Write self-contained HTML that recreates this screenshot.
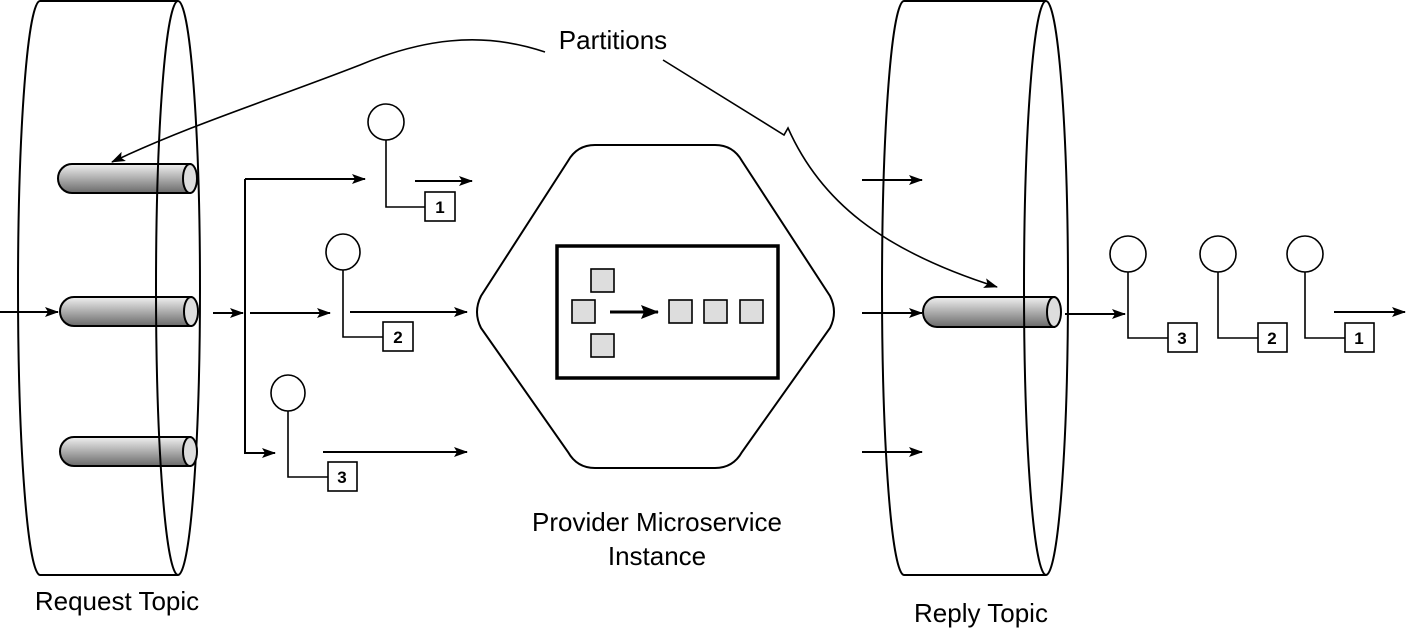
<!DOCTYPE html>
<html><head><meta charset="utf-8"><style>html,body{margin:0;padding:0;background:#fff}svg{display:block}</style></head>
<body>
<svg width="1406" height="632" viewBox="0 0 1406 632" xmlns="http://www.w3.org/2000/svg" font-family="Liberation Sans, Arial, sans-serif">
<defs>
<linearGradient id="g" x1="0" y1="0" x2="0" y2="1"><stop offset="0" stop-color="#f0f0f0"/><stop offset="1" stop-color="#6a6a6a"/></linearGradient>
<marker id="a" markerWidth="14" markerHeight="14" refX="13" refY="7" orient="auto" markerUnits="userSpaceOnUse"><path d="M0,2 L14,7 L0,12 L3,7 Z" fill="#000"/></marker>
<marker id="b" markerWidth="18" markerHeight="18" refX="17" refY="9" orient="auto" markerUnits="userSpaceOnUse"><path d="M0,2 L18,9 L0,16 L3,9 Z" fill="#000"/></marker>
</defs>
<g fill="none" stroke="#000" stroke-width="2">
<path d="M40,1 L178,1 A22,287 0 0 1 178,575 L40,575 A22,287 0 0 1 40,1 Z" fill="#fff"/>
<path d="M904,1 L1046,1 A22,287 0 0 1 1046,575 L904,575 A22,287 0 0 1 904,1 Z" fill="#fff"/>
</g>
<g stroke="#000" stroke-width="2">
<path d="M72,164 L190,164 L190,193 L72,193 A14,14.5 0 0 1 72,164 Z" fill="url(#g)"/>
<ellipse cx="190" cy="178.5" rx="7" ry="14.5" fill="#ddd"/>
<path d="M74,297 L191,297 L191,326 L74,326 A14,14.5 0 0 1 74,297 Z" fill="url(#g)"/>
<ellipse cx="191" cy="311.5" rx="7" ry="14.5" fill="#ddd"/>
<path d="M74,437 L190,437 L190,466 L74,466 A14,14.5 0 0 1 74,437 Z" fill="url(#g)"/>
<ellipse cx="190" cy="451.5" rx="7" ry="14.5" fill="#ddd"/>
<path d="M937,297 L1054,297 L1054,327 L937,327 A14,15 0 0 1 937,297 Z" fill="url(#g)"/>
<ellipse cx="1054" cy="312" rx="7" ry="15" fill="#ddd"/>
</g>
<g fill="none" stroke="#000" stroke-width="2">
<path d="M178,575 A22,287 0 0 1 178,1"/>
<path d="M1046,575 A22,287 0 0 1 1046,1"/>
</g>
<g fill="none" stroke="#000" stroke-width="2">
<line x1="0" y1="312" x2="58" y2="312" marker-end="url(#a)"/>
<line x1="213" y1="313" x2="243" y2="313" marker-end="url(#a)"/>
<polyline points="245,179 245,453 275,453" marker-end="url(#a)"/>
<line x1="245" y1="179" x2="365" y2="179" marker-end="url(#a)"/>
<line x1="250" y1="313" x2="330" y2="313" marker-end="url(#a)"/>
<line x1="415" y1="181" x2="472" y2="181" marker-end="url(#a)"/>
<line x1="350" y1="312" x2="467" y2="312" marker-end="url(#a)"/>
<line x1="323" y1="452" x2="467" y2="452" marker-end="url(#a)"/>
<line x1="862" y1="180" x2="922" y2="180" marker-end="url(#a)"/>
<line x1="862" y1="313" x2="922" y2="313" marker-end="url(#a)"/>
<line x1="862" y1="452" x2="922" y2="452" marker-end="url(#a)"/>
<line x1="1065" y1="314" x2="1125" y2="314" marker-end="url(#a)"/>
<line x1="1334" y1="312" x2="1405" y2="312" marker-end="url(#a)"/>
</g>
<g fill="#fff" stroke="#000" stroke-width="1.6">
<circle cx="386" cy="122" r="18"/><polyline fill="none" points="386,140 386,207 425,207"/><rect x="425" y="192" width="30" height="29"/>
<ellipse cx="343" cy="252" rx="17" ry="18"/><polyline fill="none" points="343,270 343,337 383,337"/><rect x="383" y="322" width="30" height="29"/>
<ellipse cx="288" cy="393" rx="17" ry="18"/><polyline fill="none" points="288,411 288,477 328,477"/><rect x="328" y="462" width="29" height="29"/>
<circle cx="1128" cy="254" r="18"/><polyline fill="none" points="1128,272 1128,338 1168,338"/><rect x="1168" y="323" width="29" height="29"/>
<circle cx="1218" cy="254" r="18"/><polyline fill="none" points="1218,272 1218,338 1258,338"/><rect x="1258" y="323" width="29" height="29"/>
<circle cx="1305" cy="254" r="18"/><polyline fill="none" points="1305,272 1305,338 1345,338"/><rect x="1345" y="323" width="29" height="29"/>
</g>
<g font-size="17" font-weight="bold" text-anchor="middle">
<text x="440" y="213">1</text><text x="398" y="343">2</text><text x="342" y="483">3</text>
<text x="1182" y="344">3</text><text x="1272" y="344">2</text><text x="1359" y="344">1</text>
</g>
<path d="M595,145 L715,145 Q733,145 742,161 L830,296 Q838,312 830,328 L742,452 Q733,468 715,468 L595,468 Q577,468 568,452 L481,328 Q473,312 481,296 L568,161 Q577,145 595,145 Z" fill="#fff" stroke="#000" stroke-width="2"/>
<rect x="557" y="246" width="221" height="132" fill="#fff" stroke="#000" stroke-width="3.5"/>
<g fill="#ddd" stroke="#000" stroke-width="1.6">
<rect x="591" y="269" width="23" height="23"/><rect x="572" y="300" width="23" height="23"/><rect x="591" y="334" width="23" height="23"/>
<rect x="669" y="300" width="23" height="23"/><rect x="704" y="300" width="23" height="23"/><rect x="740" y="300" width="23" height="23"/>
</g>
<line x1="610" y1="312" x2="658" y2="312" stroke="#000" stroke-width="3" marker-end="url(#b)"/>
<g fill="none" stroke="#000" stroke-width="1.6">
<path d="M545,52 C480,30 420,40 360,65 C270,100 190,125 112,162" marker-end="url(#a)"/>
<path d="M663,60 L784,135 L788,128 C820,200 880,250 997,287" marker-end="url(#a)"/>
</g>
<g font-size="26" text-anchor="middle" fill="#000">
<text x="613" y="49">Partitions</text>
<text x="117" y="610">Request Topic</text>
<text x="657" y="531">Provider Microservice</text>
<text x="657" y="565">Instance</text>
<text x="981" y="622">Reply Topic</text>
</g>
</svg>
</body></html>
